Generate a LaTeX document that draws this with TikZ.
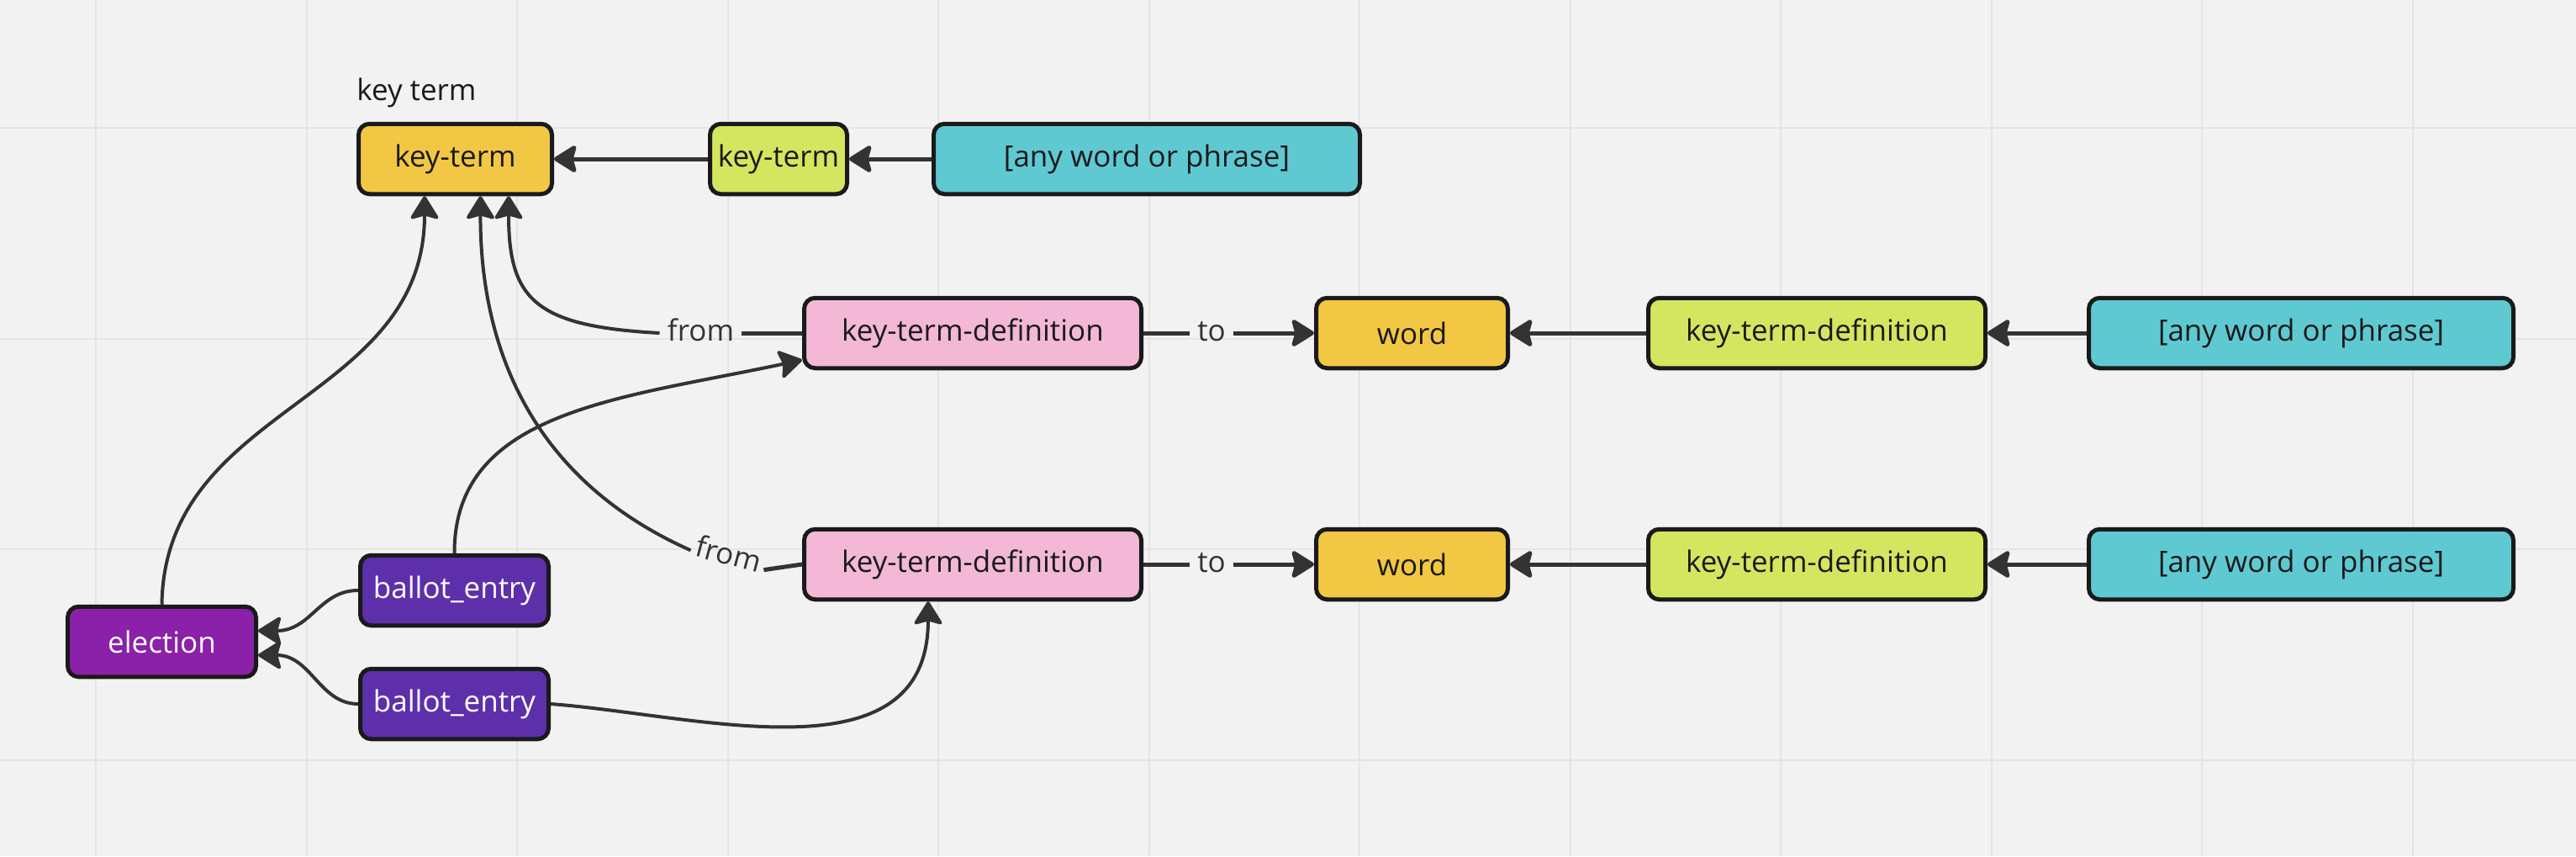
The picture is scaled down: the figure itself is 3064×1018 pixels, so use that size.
\documentclass[tikz,border=0pt]{standalone}
\usepackage{fontspec}
\setmainfont{Open Sans}
\usetikzlibrary{arrows.meta,calc}
\definecolor{bgc}{HTML}{F2F2F2}
\definecolor{gridc}{HTML}{E4E4E4}
\definecolor{bordc}{HTML}{1A1A1A}
\definecolor{linec}{HTML}{333333}
\definecolor{txtc}{HTML}{1A1A1A}
\definecolor{lblc}{HTML}{333333}
\definecolor{yelc}{HTML}{F2C744}
\definecolor{limec}{HTML}{D4E65F}
\definecolor{cyanc}{HTML}{5FC9D2}
\definecolor{pinkc}{HTML}{F2B8D6}
\definecolor{violc}{HTML}{8B21A8}
\definecolor{indc}{HTML}{5E2FAB}
\newcommand\dgfont{\fontsize{17.5}{21}\selectfont}
\begin{document}
\begin{tikzpicture}[x=0.5pt,y=-0.5pt,
  >={Stealth[length=15pt,width=18.5pt,inset=2.5pt,round]},
  box/.style={draw=bordc,line width=2.5pt,rounded corners=6.5pt,minimum height=41.75pt,inner sep=0pt,font=\dgfont,text=txtc},
  yel/.style={box,fill=yelc},
  lime/.style={box,fill=limec},
  cyanbox/.style={box,fill=cyanc},
  pinkbox/.style={box,fill=pinkc},
  violbox/.style={box,fill=violc,text=white},
  indbox/.style={box,fill=indc,text=white},
  conn/.style={draw=linec,line width=2.5pt},
  curv/.style={draw=linec,line width=2pt},
  lbl/.style={font=\dgfont,text=lblc,inner xsep=4.5pt,inner ysep=2pt}]
\fill[bgc] (0,0) rectangle (3064,1018);
\useasboundingbox (0,0) rectangle (3064,1018);
% grid
\foreach \i in {0,...,11} \draw[gridc,line width=1pt] (114+250.5*\i,0) -- (114+250.5*\i,1018);
\foreach \j in {0,...,3} \draw[gridc,line width=1pt] (0,152+250.5*\j) -- (3064,152+250.5*\j);
% nodes
\node[yel,minimum width=115pt] (kt) at (541.5,189) {key-term};
\node[lime,minimum width=81.5pt] (ktg) at (926,189) {key-term};
\node[cyanbox,minimum width=253.5pt] (c0) at (1364,189) {[any word or phrase]};
\node[font=\dgfont,text=txtc,anchor=base west,inner sep=0pt] (ktt) at ($(kt.north west)+(0,-25)$) {key term};

\node[pinkbox,minimum width=200.5pt] (p1) at (1157,396) {key-term-definition};
\node[yel,minimum width=114pt] (w1) at (1679.5,396) {word};
\node[lime,minimum width=200.5pt] (g1) at (2161,396) {key-term-definition};
\node[cyanbox,minimum width=252.5pt] (c1) at (2737,396) {[any word or phrase]};

\node[pinkbox,minimum width=200.5pt] (p2) at (1157,671) {key-term-definition};
\node[yel,minimum width=114pt] (w2) at (1679.5,671) {word};
\node[lime,minimum width=200.5pt] (g2) at (2161,671) {key-term-definition};
\node[cyanbox,minimum width=252.5pt] (c2) at (2737,671) {[any word or phrase]};

\node[violbox,minimum width=112pt] (el) at (192.5,763) {election};
\node[indbox,minimum width=112pt] (b1) at (540.5,702) {ballot\_entry};
\node[indbox,minimum width=112pt] (b2) at (540.5,837) {ballot\_entry};

% straight connectors
\draw[conn,->] (ktg.west) -- (kt.east);
\draw[conn,->] (c0.west) -- (ktg.east);
\draw[conn,->] (g1.west) -- (w1.east);
\draw[conn,->] (c1.west) -- (g1.east);
\draw[conn,->] (g2.west) -- (w2.east);
\draw[conn,->] (c2.west) -- (g2.east);

% to labels
\node[lbl,anchor=mid] (t1) at (1441,400) {to};
\draw[conn] (p1.east) -- (t1.west |- p1.east);
\draw[conn,->] (t1.east |- w1.west) -- (w1.west);
\node[lbl,anchor=mid] (t2) at (1441,675) {to};
\draw[conn] (p2.east) -- (t2.west |- p2.east);
\draw[conn,->] (t2.east |- w2.west) -- (w2.west);

% from labels
\node[lbl,anchor=mid] (f1) at (833.5,400) {from};
\draw[conn] (p1.west) -- (f1.east |- p1.west);
\draw[curv,->] (f1.west |- p1.west) .. controls (636,388) and (605,356) .. ($(kt.south)+(63.5,0)$);
\node[lbl,anchor=mid,rotate=-15,inner xsep=2.5pt] (f2) at (865,666) {from};
\draw[conn] (p2.west) -- (f2.mid east);
\draw[curv,->] (f2.mid west) .. controls (634,571) and (571,416) .. ($(kt.south)+(30,0)$);

% election and ballot connectors
\draw[curv,->] (el.north) .. controls (196,480) and (505,480) .. ($(kt.south)+(-36.5,0)$);
\draw[curv,->] (b1.west) .. controls (380,702) and (370,750) .. ($(el.east)+(0,-13)$);
\draw[curv,->] (b2.west) .. controls (380,837) and (370,779) .. ($(el.east)+(0,16)$);
\draw[curv,->] (b1.north) .. controls (540,488) and (738,474) .. ($(p1.west)+(0,32)$);
\draw[curv,->] (b2.east) .. controls (830,850) and (1104,930) .. ($(p2.south)+(-53,0)$);
\end{tikzpicture}
\end{document}
